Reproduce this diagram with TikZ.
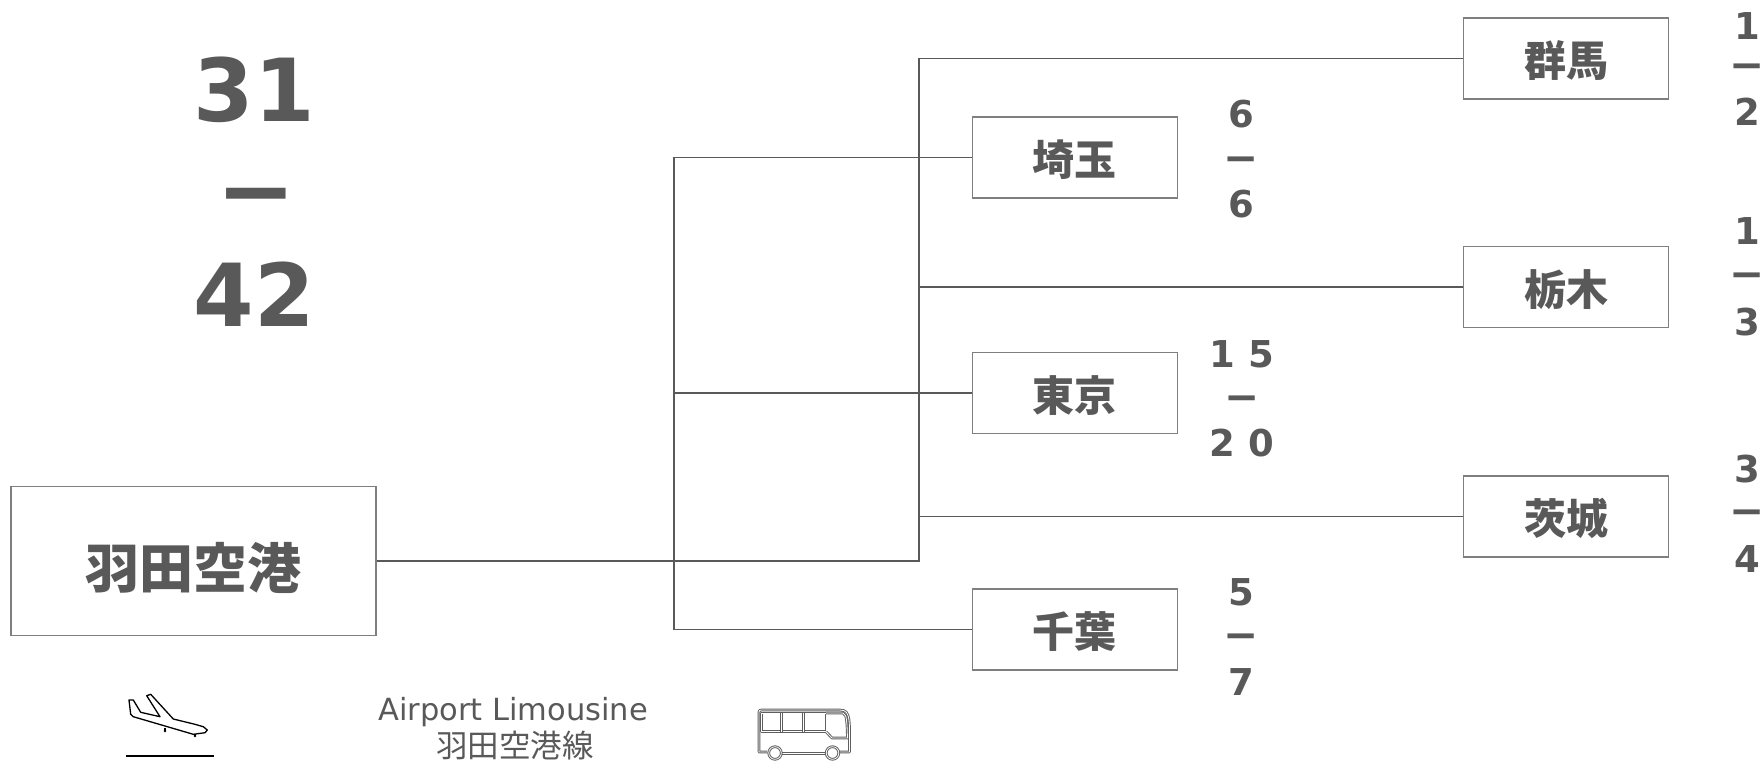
\documentclass[tikz,border=0pt]{standalone}
\usepackage{fontspec}
\setmainfont{DejaVu Sans}
\newfontfamily\numf{DejaVu Sans}
\newfontfamily\jpf{Noto Sans CJK JP}
\definecolor{txt}{HTML}{595959}
\definecolor{ln}{HTML}{595959}
\definecolor{bx}{HTML}{7F7F7F}
\definecolor{busgray}{HTML}{5E5E5E}
\tikzset{
  smallbox/.style={draw=bx, line width=1.3pt, minimum width=205pt, minimum height=81pt, inner sep=0pt},
  bigbox/.style={draw=bx, line width=1.3pt, minimum width=365pt, minimum height=149pt, inner sep=0pt},
  lblsmall/.style={font=\jpf\bfseries\fontsize{42}{42}\selectfont, text=txt, inner sep=0pt},
  lblbig/.style={font=\jpf\bfseries\fontsize{54}{54}\selectfont, text=txt, inner sep=0pt},
  conn/.style={draw=ln, line width=1.7pt},
  num/.style={font=\numf\bfseries\fontsize{37}{37}\selectfont, text=txt, anchor=base, inner sep=0pt},
  dsh/.style={font=\numf\bfseries\fontsize{42}{42}\selectfont, text=txt, anchor=base, inner sep=0pt},
  numbig/.style={font=\numf\bfseries\fontsize{87}{87}\selectfont, text=txt, anchor=base, inner sep=0pt},
  dshbig/.style={font=\numf\bfseries\fontsize{95}{95}\selectfont, text=txt, anchor=base, inner sep=0pt},
  bottxt/.style={font=\numf\fontsize{30.5}{30.5}\selectfont, text=txt, anchor=base, inner sep=0pt},
  botjp/.style={font=\jpf\fontsize{31.5}{31.5}\selectfont, text=txt, anchor=base, inner sep=0pt},
  planeline/.style={draw=black, line width=1.3pt, line join=round},
  busline/.style={draw=busgray, double=white, double distance=0.8pt, line width=0.95pt, line join=round},
}
\begin{document}
\begin{tikzpicture}[x=1pt,y=-1pt]
\useasboundingbox (0,0) rectangle (1764,761);

% boxes
\node[bigbox, label={[lblbig, yshift=-7pt]center:羽田空港}] (haneda) at (193.5,561.2) {};
\node[smallbox, label={[lblsmall, yshift=-2pt]center:埼玉}] (saitama) at (1074.7,157.5) {};
\node[smallbox, label={[lblsmall, yshift=-2pt]center:東京}] (tokyo) at (1074.7,393.3) {};
\node[smallbox, label={[lblsmall, yshift=-2pt]center:千葉}] (chiba) at (1074.7,629.6) {};
\node[smallbox, label={[lblsmall, yshift=-2pt]center:群馬}] (gunma) at (1566,58.5) {};
\node[smallbox, label={[lblsmall, yshift=-2pt]center:栃木}] (tochigi) at (1566,287.2) {};
\node[smallbox, label={[lblsmall, yshift=-2pt]center:茨城}] (ibaraki) at (1566,516.6) {};

% connectors
\coordinate (jr) at (919.3,561.2);
\coordinate (jl) at (673.7,561.2);
\draw[conn] (haneda.east) -- (jr) |- (gunma.west);
\draw[conn] (jr) |- (tochigi.west);
\draw[conn] (jr) |- (ibaraki.west);
\draw[conn] (jl) |- (saitama.west);
\draw[conn] (jl) |- (tokyo.west);
\draw[conn] (jl) |- (chiba.west);

% big numbers
\node[numbig] (bigA) at (254,121.7) {31};
\node[dshbig] (bigB) at (256,223.5) {−};
\node[numbig] (bigC) at (254,326.7) {42};

% left column numbers
\node[num] (saA) at (1241,127) {6};
\node[dsh] (saB) at (1241,172) {−};
\node[num] (saC) at (1241,217) {6};
\node[num] (toA) at (1242,367) {1 5};
\node[dsh] (toB) at (1242,411) {−};
\node[num] (toC) at (1242,456.7) {2 0};
\node[num] (chA) at (1241,605) {5};
\node[dsh] (chB) at (1241,649) {−};
\node[num] (chC) at (1241,695) {7};

% right column numbers
\node[num] (guA) at (1747,39) {1};
\node[dsh] (guB) at (1747,79) {−};
\node[num] (guC) at (1747,125.5) {2};
\node[num] (tcA) at (1747,244) {1};
\node[dsh] (tcB) at (1747,288) {−};
\node[num] (tcC) at (1747,335) {3};
\node[num] (ibA) at (1747,482) {3};
\node[dsh] (ibB) at (1747,525) {−};
\node[num] (ibC) at (1747,572) {4};

% bottom texts
\node[bottxt] (limoA) at (513,720) {Airport Limousine};
\node[botjp] (limoB) at (515,757) {羽田空港線};

% plane icon
\draw[planeline] (207.3,730) -- (203.3,726.7) -- (195,724.3) -- (173.3,719) -- (150.7,694.3)
  -- (146.7,695.7) -- (160,716.7) -- (140.7,712.3) -- (133.3,700) -- (129,700)
  -- (130.7,714.3) -- (133.3,716.7) -- (193.3,734.3) -- (205,732.7) -- cycle;
\draw[planeline] (165,727.7) -- (165,730.7);
\fill (165,731) circle (1.3pt);
\draw[planeline] (195,733.5) -- (195,735.5);
\fill (195,736) circle (1.3pt);
\draw[draw=black, line width=2.6pt] (126,756) -- (214,756);

% bus icon
\draw[busline] (767,752) -- (759,752) -- (759,712) .. controls (759,710.5) and (760,710) .. (761.5,710)
  -- (840,710) .. controls (846,710) and (848,713) .. (849,720) -- (849.5,727) -- (849.5,752) -- (839,752);
\draw[busline] (782,753.5) -- (826,753.5);
\draw[busline] (775,753) circle (6.3pt);
\draw[busline] (832.5,753) circle (6.3pt);
\draw[busline] (761.5,731.7) -- (761.5,713) -- (826,713) -- (826,731.7) -- cycle;
\draw[busline] (781.7,713) -- (781.7,731.7);
\draw[busline] (803.3,713) -- (803.3,731.7);
\draw[busline] (826,713) -- (843,713) .. controls (846,715) .. (847,725) -- (847.5,738) -- (832,738) -- (826,731.7);
\end{tikzpicture}
\end{document}
